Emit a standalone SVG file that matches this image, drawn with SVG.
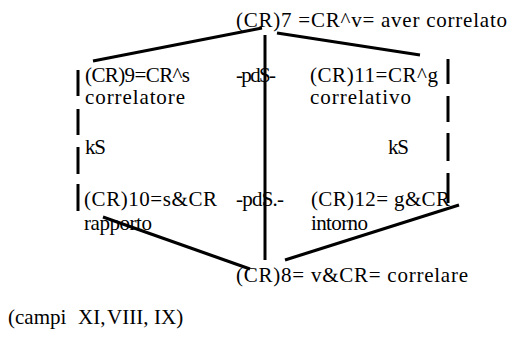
<svg xmlns="http://www.w3.org/2000/svg" width="508" height="342" viewBox="0 0 508 342">
<style>
  text { font-family: "Liberation Serif", "Times New Roman", serif; font-size: 21px; fill: #000; }
  .ln { stroke: #000; stroke-width: 3; fill: none; }
  .dl { stroke: #000; stroke-width: 3; fill: none; }
</style>
<rect width="508" height="342" fill="#fff"/>
<g id="connectors">
  <line class="ln" x1="262" y1="28" x2="93" y2="61"/>
  <line class="ln" x1="277" y1="33" x2="420" y2="55"/>
  <line class="ln" x1="265" y1="35" x2="265" y2="260"/>
  <line class="ln" x1="103" y1="217" x2="250" y2="269"/>
  <line class="ln" x1="285" y1="260" x2="459" y2="205"/>
  <g id="dash-left">
    <line class="dl" x1="78" y1="70" x2="78" y2="96"/>
    <line class="dl" x1="78" y1="109" x2="78" y2="135"/>
    <line class="dl" x1="78" y1="147" x2="78" y2="174"/>
    <line class="dl" x1="78" y1="184" x2="78" y2="211"/>
  </g>
  <g id="dash-right">
    <line class="dl" x1="448" y1="59" x2="448" y2="84"/>
    <line class="dl" x1="448" y1="96" x2="448" y2="122"/>
    <line class="dl" x1="448" y1="133" x2="448" y2="161"/>
    <line class="dl" x1="448" y1="173" x2="448" y2="203"/>
  </g>
</g>
<g id="n7"><text x="236" y="27" textLength="271">(CR)7 =CR^v= aver correlato</text></g>
<g id="n9">
  <text x="85" y="82" textLength="105">(CR)9=CR^s</text>
  <text x="85" y="104" textLength="100">correlatore</text>
</g>
<g id="pds1"><text x="236" y="82" textLength="40">-pdS-</text></g>
<g id="n11">
  <text x="310" y="82" textLength="128">(CR)11=CR^g</text>
  <text x="310" y="104" textLength="101">correlativo</text>
</g>
<g id="ks-left"><text x="85" y="154" textLength="21">kS</text></g>
<g id="ks-right"><text x="388" y="154" textLength="21">kS</text></g>
<g id="n10">
  <text x="84" y="206" textLength="133">(CR)10=s&amp;CR</text>
  <text x="84" y="230" textLength="68">rapporto</text>
</g>
<g id="pds2"><text x="236" y="206" textLength="48">-pdS.-</text></g>
<g id="n12">
  <text x="311" y="206" textLength="139">(CR)12= g&amp;CR</text>
  <text x="311" y="230" textLength="57">intorno</text>
</g>
<g id="n8"><text x="236" y="282" textLength="232">(CR)8= v&amp;CR= correlare</text></g>
<g id="caption"><text y="324"><tspan x="8">(campi</tspan> <tspan x="78">XI,</tspan> <tspan x="107">VIII,</tspan> <tspan x="154">IX)</tspan></text></g>
</svg>
